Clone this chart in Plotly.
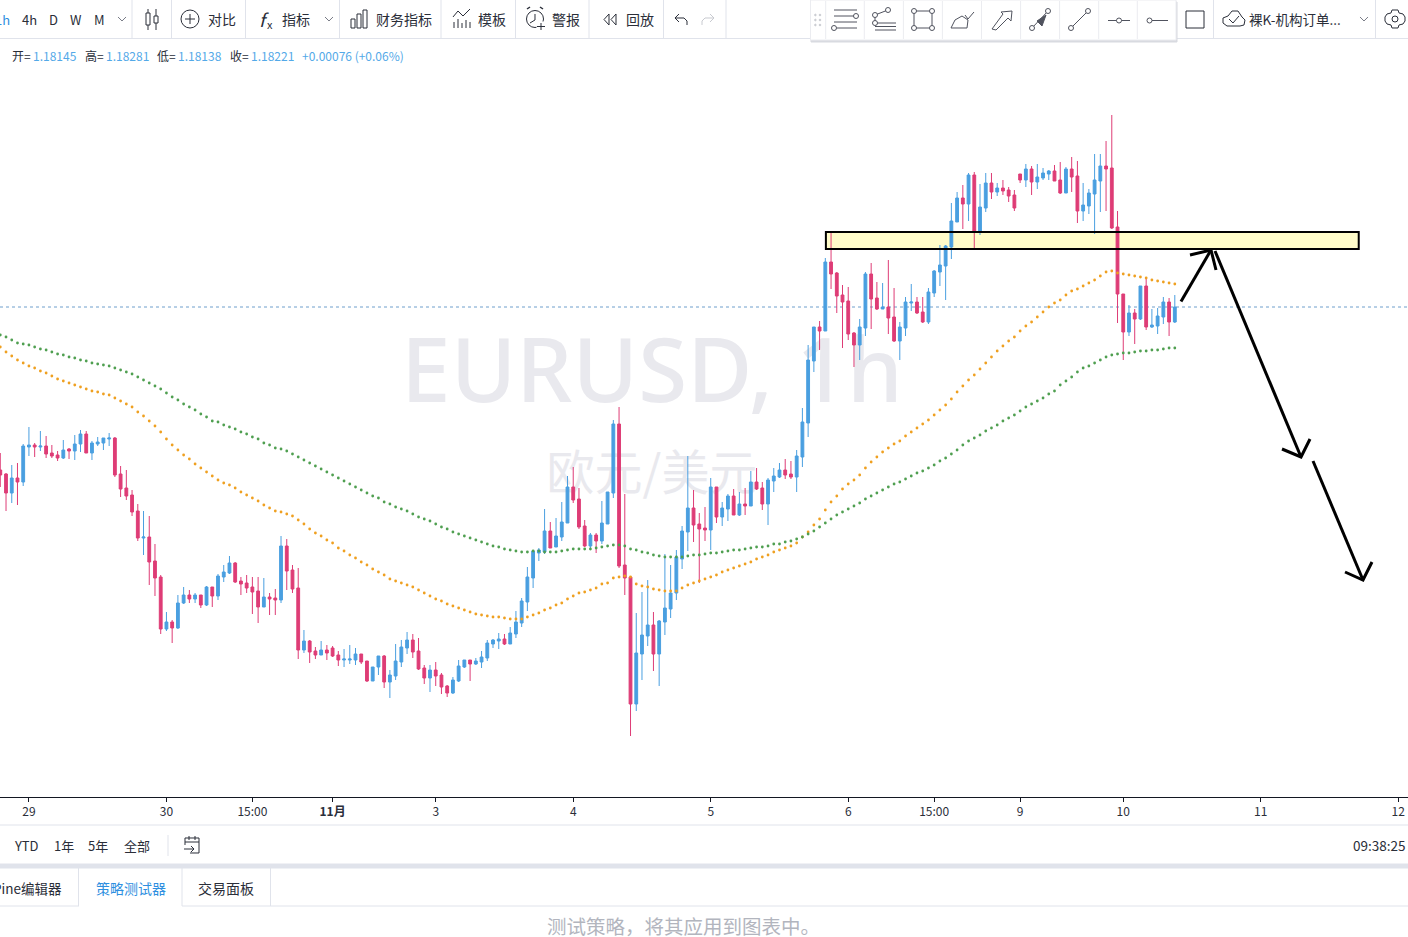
import plotly.graph_objects as go

# EURUSD 1h bars
opens = [
    1.1740, 1.1738, 1.17285, 1.1736, 1.1734, 1.17515, 1.17525, 1.17515, 1.1752, 1.17485,
    1.17475, 1.1746, 1.17505, 1.17495, 1.1753, 1.1758, 1.17485, 1.1753, 1.17535, 1.17555,
    1.1756, 1.1738, 1.1731, 1.17275, 1.17195, 1.1706, 1.17065, 1.16945, 1.16865, 1.16605,
    1.1664, 1.1661, 1.16735, 1.16775, 1.16755, 1.16775, 1.16725, 1.16815, 1.1677, 1.16865,
    1.16885, 1.16935, 1.16845, 1.16835, 1.16815, 1.16795, 1.16715, 1.16765, 1.1676, 1.1675,
    1.1702, 1.169, 1.1681, 1.165, 1.16545, 1.16495, 1.16475, 1.165, 1.1651, 1.16475,
    1.1645, 1.1645, 1.1645, 1.1648, 1.16445, 1.16345, 1.16415, 1.1647, 1.1634, 1.1637,
    1.1644, 1.1651, 1.1655, 1.16495, 1.1641, 1.1636, 1.164, 1.16375, 1.1632, 1.16285,
    1.16345, 1.16415, 1.1645, 1.1643, 1.1644, 1.1646, 1.1653, 1.16545, 1.16555, 1.1653,
    1.1658, 1.16635, 1.1674, 1.1686, 1.16985, 1.1699, 1.17095, 1.17015, 1.17065, 1.17135,
    1.17315, 1.17255, 1.1712, 1.1702, 1.17075, 1.17045, 1.1713, 1.17285, 1.1763, 1.16925,
    1.16865, 1.1623, 1.1648, 1.1657, 1.16625, 1.1648, 1.1664, 1.16705, 1.16785, 1.16955,
    1.1709, 1.1721, 1.1713, 1.1711, 1.171, 1.17315, 1.17165, 1.17205, 1.1727, 1.17175,
    1.1723, 1.1722, 1.1734, 1.1731, 1.1723, 1.17345, 1.17365, 1.174, 1.1738, 1.17365,
    1.17465, 1.17635, 1.17945, 1.18115, 1.18095, 1.1844, 1.18385, 1.18275, 1.18245, 1.18085,
    1.18025, 1.1811, 1.1838, 1.1826, 1.18205, 1.18215, 1.18165, 1.18045, 1.1811, 1.18235,
    1.1824, 1.1819, 1.1814, 1.18285, 1.1839, 1.1842, 1.18515, 1.1864, 1.1876, 1.1873,
    1.18875, 1.18595, 1.1871, 1.18835, 1.1879, 1.1881, 1.188, 1.18775, 1.1888, 1.1885,
    1.18905, 1.1884, 1.1886, 1.1888, 1.18895, 1.1885, 1.18785, 1.18905, 1.1887, 1.18695,
    1.1872, 1.1878, 1.18845, 1.1892, 1.1891, 1.18615, 1.1828, 1.1809, 1.18185, 1.18155,
    1.1832, 1.18115, 1.1812, 1.18165, 1.1824, 1.1814,
]
highs = [
    1.17485, 1.17385, 1.17425, 1.17435, 1.1753, 1.17615, 1.17535, 1.17595, 1.1757, 1.17525,
    1.17495, 1.1755, 1.1751, 1.17575, 1.176, 1.17595, 1.17545, 1.17565, 1.1756, 1.17585,
    1.17565, 1.1742, 1.174, 1.173, 1.1723, 1.17195, 1.1717, 1.1703, 1.16875, 1.1669,
    1.1665, 1.16775, 1.16815, 1.168, 1.16785, 1.16775, 1.1682, 1.16815, 1.1688, 1.16925,
    1.1697, 1.1694, 1.16865, 1.16875, 1.16865, 1.16865, 1.1686, 1.16785, 1.16805, 1.1707,
    1.17055, 1.16925, 1.1691, 1.1660, 1.1655, 1.16515, 1.16545, 1.16525, 1.1652, 1.16495,
    1.16505, 1.16525, 1.1651, 1.1648, 1.16445, 1.16415, 1.1647, 1.16475, 1.164, 1.1653,
    1.1655, 1.1659, 1.1658, 1.1656, 1.16425, 1.16425, 1.1644, 1.16385, 1.16325, 1.16365,
    1.1645, 1.1645, 1.1645, 1.1646, 1.16495, 1.1655, 1.16555, 1.16585, 1.1658, 1.16615,
    1.16695, 1.1676, 1.16915, 1.17, 1.1701, 1.17205, 1.1714, 1.1716, 1.1724, 1.1737,
    1.17415, 1.1731, 1.1715, 1.17085, 1.17085, 1.17245, 1.1729, 1.1765, 1.17715, 1.1728,
    1.16865, 1.16685, 1.1679, 1.1685, 1.1669, 1.1665, 1.1698, 1.16925, 1.17, 1.1712,
    1.1747, 1.173, 1.17185, 1.17215, 1.1736, 1.17315, 1.1724, 1.1728, 1.17305, 1.1729,
    1.1731, 1.17395, 1.1741, 1.1734, 1.1736, 1.1741, 1.17435, 1.17455, 1.17445, 1.175,
    1.1771, 1.18025, 1.18115, 1.18145, 1.1846, 1.1859, 1.1839, 1.18325, 1.18315, 1.1809,
    1.18155, 1.1839, 1.18435, 1.1834, 1.18335, 1.1845, 1.1831, 1.1814, 1.18265, 1.1833,
    1.18265, 1.18265, 1.1831, 1.1840, 1.18525, 1.18525, 1.18735, 1.1879, 1.18825, 1.18885,
    1.1889, 1.1883, 1.18885, 1.18885, 1.18835, 1.1885, 1.18815, 1.188, 1.1888, 1.1893,
    1.1892, 1.1893, 1.1891, 1.189, 1.18925, 1.1894, 1.18915, 1.18965, 1.18945, 1.18835,
    1.18805, 1.1898, 1.1898, 1.19045, 1.19175, 1.18695, 1.1828, 1.18225, 1.18205, 1.1832,
    1.1836, 1.18205, 1.1821, 1.18265, 1.1826, 1.18275,
]
lows = [
    1.17315, 1.17195, 1.17235, 1.17225, 1.1732, 1.1747, 1.17465, 1.17495, 1.1746, 1.1746,
    1.17445, 1.17455, 1.17455, 1.1745, 1.1749, 1.17485, 1.1745, 1.1752, 1.175, 1.1752,
    1.17365, 1.17265, 1.1725, 1.1717, 1.17045, 1.16975, 1.16825, 1.1677, 1.1658, 1.16595,
    1.16535, 1.16605, 1.1673, 1.16735, 1.16735, 1.1671, 1.1672, 1.16715, 1.1675, 1.1684,
    1.1688, 1.16835, 1.16775, 1.16785, 1.1668, 1.16635, 1.16715, 1.16675, 1.16675, 1.16735,
    1.168, 1.16785, 1.16455, 1.16485, 1.16435, 1.16455, 1.16475, 1.1645, 1.16465, 1.1642,
    1.16415, 1.1643, 1.16425, 1.1643, 1.1634, 1.16345, 1.16375, 1.1631, 1.1626, 1.1635,
    1.16415, 1.1648, 1.1646, 1.164, 1.1633, 1.1629, 1.1632, 1.1628, 1.16265, 1.1628,
    1.1634, 1.1641, 1.16345, 1.16425, 1.1641, 1.16445, 1.1651, 1.16505, 1.16525, 1.1653,
    1.1656, 1.16615, 1.16695, 1.1681, 1.16945, 1.1698, 1.1701, 1.17015, 1.17045, 1.17135,
    1.17235, 1.17105, 1.17015, 1.1701, 1.16985, 1.1703, 1.1713, 1.1726, 1.1691, 1.16775,
    1.1607, 1.16195, 1.1635, 1.1652, 1.16395, 1.1632, 1.16575, 1.1666, 1.1675, 1.16905,
    1.16995, 1.1704, 1.16835, 1.17045, 1.17, 1.17135, 1.1712, 1.17145, 1.17175, 1.1717,
    1.17175, 1.1722, 1.173, 1.172, 1.17125, 1.1729, 1.1736, 1.17355, 1.17355, 1.1729,
    1.17415, 1.17565, 1.1789, 1.18, 1.18095, 1.18305, 1.18185, 1.1801, 1.1805, 1.17915,
    1.1795, 1.1807, 1.18105, 1.182, 1.18205, 1.1808, 1.1804, 1.1795, 1.1807, 1.18195,
    1.1818, 1.18135, 1.1813, 1.18265, 1.1832, 1.1825, 1.18455, 1.1864, 1.18605, 1.18645,
    1.185, 1.18575, 1.1869, 1.18755, 1.1877, 1.18775, 1.1874, 1.18695, 1.18835, 1.18815,
    1.18775, 1.18805, 1.1885, 1.1885, 1.18845, 1.1878, 1.18785, 1.1879, 1.18635, 1.18645,
    1.1868, 1.1858, 1.1869, 1.18695, 1.18605, 1.18135, 1.1795, 1.1807, 1.1803, 1.1815,
    1.181, 1.1811, 1.1808, 1.1813, 1.1807, 1.18135,
]
closes = [
    1.17375, 1.17285, 1.1736, 1.1734, 1.1752, 1.17525, 1.17515, 1.1752, 1.1748, 1.1747,
    1.1746, 1.175, 1.17495, 1.1753, 1.1758, 1.17485, 1.17535, 1.1754, 1.1756, 1.1756,
    1.17375, 1.17305, 1.1727, 1.1719, 1.1706, 1.17065, 1.1694, 1.1686, 1.16605, 1.1664,
    1.1661, 1.16735, 1.16775, 1.16755, 1.16775, 1.16725, 1.16815, 1.1677, 1.1687, 1.1689,
    1.16935, 1.1684, 1.1683, 1.1681, 1.1679, 1.16715, 1.16765, 1.16755, 1.1675, 1.1702,
    1.16895, 1.16805, 1.165, 1.16545, 1.1649, 1.16475, 1.165, 1.16485, 1.1647, 1.1645,
    1.16455, 1.16455, 1.1648, 1.1644, 1.16345, 1.16415, 1.1647, 1.1634, 1.16375, 1.16445,
    1.16515, 1.1655, 1.1649, 1.16405, 1.1636, 1.164, 1.1637, 1.16315, 1.16285, 1.1635,
    1.1642, 1.1645, 1.1643, 1.16445, 1.16465, 1.16535, 1.1655, 1.16555, 1.1653, 1.16585,
    1.1664, 1.16745, 1.16865, 1.16995, 1.17, 1.17095, 1.1701, 1.1707, 1.1714, 1.17315,
    1.1725, 1.17115, 1.1702, 1.17075, 1.17045, 1.17135, 1.1729, 1.1763, 1.1692, 1.1686,
    1.1623, 1.16485, 1.16575, 1.16625, 1.1648, 1.16645, 1.1671, 1.16785, 1.16965, 1.17095,
    1.1721, 1.17125, 1.17105, 1.171, 1.17315, 1.17165, 1.1721, 1.1727, 1.17175, 1.1723,
    1.1722, 1.1734, 1.17305, 1.1723, 1.1735, 1.1737, 1.174, 1.17375, 1.17365, 1.1747,
    1.1764, 1.1795, 1.18115, 1.18095, 1.1844, 1.1838, 1.1827, 1.1824, 1.1808, 1.18025,
    1.18115, 1.1838, 1.18255, 1.18205, 1.18215, 1.1816, 1.18045, 1.18115, 1.1824, 1.1824,
    1.18185, 1.1814, 1.1829, 1.18395, 1.18425, 1.1852, 1.18645, 1.1876, 1.1873, 1.18875,
    1.18595, 1.18715, 1.18835, 1.1879, 1.1881, 1.18795, 1.1877, 1.1871, 1.1885, 1.18905,
    1.1884, 1.18865, 1.18885, 1.18895, 1.18845, 1.18785, 1.18905, 1.18865, 1.18695, 1.18725,
    1.18785, 1.1885, 1.1892, 1.18905, 1.1861, 1.1828, 1.1809, 1.18185, 1.18155, 1.1832,
    1.18115, 1.18125, 1.1817, 1.1824, 1.1814, 1.18215,
]

# the two dotted moving averages, one point per bar
ma_orange = [
    1.18015, 1.1799, 1.1797, 1.1795, 1.17935, 1.1792, 1.1791, 1.17895, 1.17885, 1.1787,
    1.17855, 1.17845, 1.17835, 1.17825, 1.17815, 1.17805, 1.17795, 1.1779, 1.1778, 1.17775,
    1.1776, 1.17745, 1.1773, 1.17715, 1.1769, 1.1767, 1.17645, 1.1762, 1.1759, 1.17555,
    1.17525, 1.175, 1.17475, 1.17455, 1.1743, 1.1741, 1.1739, 1.1737, 1.1735, 1.17335,
    1.17325, 1.1731, 1.1729, 1.17275, 1.1726, 1.17245, 1.17225, 1.1721, 1.17195, 1.1719,
    1.1718, 1.1717, 1.1715, 1.1713, 1.17105, 1.17085, 1.1707, 1.1705, 1.17035, 1.1701,
    1.16995, 1.16975, 1.1696, 1.1694, 1.16925, 1.16905, 1.1689, 1.16875, 1.16855, 1.16845,
    1.16835, 1.16825, 1.16815, 1.168, 1.16785, 1.1677, 1.16755, 1.16745, 1.1673, 1.1672,
    1.1671, 1.167, 1.1669, 1.1668, 1.16675, 1.1667, 1.16665, 1.16665, 1.1666, 1.16655,
    1.16655, 1.16655, 1.16665, 1.16675, 1.16685, 1.167, 1.1671, 1.16725, 1.16735, 1.16755,
    1.1677, 1.16785, 1.1679, 1.168, 1.1681, 1.1683, 1.16835, 1.1686, 1.16865, 1.1687,
    1.16865, 1.1683, 1.1682, 1.16815, 1.16805, 1.168, 1.16795, 1.16795, 1.16795, 1.1681,
    1.16825, 1.16835, 1.16845, 1.16855, 1.16865, 1.16875, 1.1689, 1.169, 1.1691, 1.1692,
    1.1693, 1.1694, 1.16955, 1.16965, 1.16975, 1.1699, 1.17, 1.1701, 1.1702, 1.17035,
    1.17065, 1.1709, 1.17125, 1.17155, 1.172, 1.1724, 1.1727, 1.17305, 1.1733, 1.1735,
    1.17375, 1.1741, 1.1744, 1.17465, 1.1749, 1.1751, 1.1753, 1.17545, 1.1757, 1.1759,
    1.1761, 1.1763, 1.1765, 1.17675, 1.177, 1.17725, 1.17755, 1.1779, 1.1782, 1.1785,
    1.17875, 1.17905, 1.17935, 1.17965, 1.17995, 1.1802, 1.18045, 1.18065, 1.18095, 1.1812,
    1.1814, 1.18165, 1.1819, 1.18215, 1.18235, 1.1825, 1.18275, 1.18295, 1.18305, 1.1832,
    1.18335, 1.1835, 1.1837, 1.1839, 1.18395, 1.18385, 1.1838, 1.18375, 1.1837, 1.18365,
    1.1836, 1.1835, 1.18345, 1.1834, 1.18335, 1.1833,
]
ma_green = [
    1.18075, 1.18065, 1.1805, 1.18035, 1.1803, 1.18025, 1.18015, 1.18005, 1.18, 1.1799,
    1.1798, 1.17975, 1.17965, 1.1796, 1.1795, 1.17945, 1.17935, 1.1793, 1.17925, 1.1792,
    1.1791, 1.179, 1.1789, 1.1788, 1.17865, 1.1785, 1.17835, 1.1782, 1.17805, 1.17785,
    1.17765, 1.1775, 1.1773, 1.17715, 1.177, 1.1768, 1.17665, 1.17645, 1.1764, 1.17625,
    1.17615, 1.17605, 1.1759, 1.1758, 1.17565, 1.17555, 1.17535, 1.17525, 1.1751, 1.17505,
    1.17495, 1.1748, 1.17465, 1.1745, 1.17435, 1.1742, 1.17405, 1.1739, 1.17375, 1.1736,
    1.17345, 1.1733, 1.17315, 1.173, 1.17285, 1.1727, 1.1726, 1.1724, 1.1723, 1.17215,
    1.17205, 1.17195, 1.1718, 1.17165, 1.17155, 1.17145, 1.1713, 1.17115, 1.17105, 1.1709,
    1.1708, 1.1707, 1.1706, 1.1705, 1.1704, 1.1703, 1.1702, 1.17015, 1.17005, 1.17,
    1.16995, 1.1699, 1.1699, 1.16995, 1.16995, 1.1699, 1.1699, 1.1699, 1.16995, 1.17,
    1.17005, 1.17005, 1.17005, 1.17005, 1.1701, 1.17015, 1.1702, 1.17025, 1.17025, 1.1702,
    1.17005, 1.17, 1.1699, 1.16985, 1.16975, 1.1697, 1.16965, 1.16965, 1.16965, 1.16965,
    1.1697, 1.16975, 1.16975, 1.1698, 1.16985, 1.16985, 1.1699, 1.16995, 1.17, 1.17,
    1.17005, 1.1701, 1.17015, 1.17015, 1.1702, 1.1703, 1.1703, 1.1704, 1.17045, 1.17055,
    1.17065, 1.1708, 1.17095, 1.17115, 1.17135, 1.17155, 1.17175, 1.1719, 1.17205, 1.1722,
    1.17235, 1.17255, 1.1727, 1.17285, 1.173, 1.17315, 1.1733, 1.1734, 1.17355, 1.1737,
    1.17385, 1.17395, 1.1741, 1.17425, 1.17445, 1.1746, 1.1748, 1.175, 1.17525, 1.17545,
    1.1756, 1.17575, 1.17595, 1.1761, 1.17625, 1.17645, 1.1766, 1.17675, 1.17695, 1.17715,
    1.1773, 1.17745, 1.1776, 1.1778, 1.17795, 1.17825, 1.17845, 1.17865, 1.1789, 1.1791,
    1.1792, 1.17935, 1.1795, 1.17965, 1.17975, 1.1798, 1.17985, 1.17985, 1.1799, 1.17995,
    1.17995, 1.18, 1.18, 1.18005, 1.1801, 1.1801,
]

bar_index = list(range(len(closes)))

tick_bars = [5, 29, 44, 58, 76, 100, 124, 148, 163, 178, 196, 220, 244]
tick_labels = ["29", "30", "15:00", "<b>11月</b>", "3", "4", "5", "6", "15:00", "9", "10", "11", "12"]

legend_names = ["开=", "高=", "低=", "收="]
legend_values = ["1.18145", "1.18281", "1.18138", "1.18221"]
legend_change = "+0.00076 (+0.06%)"

zone_price = [1.18505, 1.1859]
zone_bars = [144.1, 237.1]

BLUE = "#4a9fe0"
RED = "#de3c76"
TEXT = "#2a2e39"
GREY = "#50535e"
RULE = "#e0e3eb"
CJK = "Noto Sans CJK SC"

W, H = 1408, 937
shapes = []
notes = []


def px(x):
    return x / W


def py(y):
    return 1 - y / H


def label(x, y, text, size=13, color=TEXT, anchor="left"):
    notes.append(dict(
        xref="paper", yref="paper", x=px(x), y=py(y), text=text, showarrow=False,
        xanchor=anchor, yanchor="middle", borderpad=0,
        font=dict(family=CJK, size=size, color=color),
    ))


def line(x0, y0, x1, y1, color=GREY, width=1):
    shapes.append(dict(
        type="line", xref="paper", yref="paper", x0=px(x0), y0=py(y0), x1=px(x1), y1=py(y1),
        line=dict(color=color, width=width),
    ))


def box(x0, y0, x1, y1, fill=None, color=GREY, width=1):
    shapes.append(dict(
        type="rect", xref="paper", yref="paper", x0=px(x0), y0=py(y0), x1=px(x1), y1=py(y1),
        fillcolor=fill or "rgba(0,0,0,0)", line=dict(color=color, width=width),
    ))


def circle(cx, cy, r=2.5, fill="#ffffff", color=GREY, width=1):
    shapes.append(dict(
        type="circle", xref="paper", yref="paper",
        x0=px(cx - r), y0=py(cy - r), x1=px(cx + r), y1=py(cy + r),
        fillcolor=fill, line=dict(color=color, width=width),
    ))


def path(points, closed=False, fill=None, color=GREY, width=1):
    d = "M " + " L ".join(f"{px(x):.5f} {py(y):.5f}" for x, y in points)
    if closed:
        d += " Z"
    shapes.append(dict(
        type="path", xref="paper", yref="paper", path=d,
        fillcolor=fill or "rgba(0,0,0,0)", line=dict(color=color, width=width),
    ))


def chevron(cx, cy):
    path([(cx - 4, cy - 2), (cx, cy + 2), (cx + 4, cy - 2)], color="#787b86")


# top toolbar
line(0, 38.5, W, 38.5, RULE)
for sep in [132, 171.5, 245.5, 339.5, 441, 515.5, 589, 663.5, 726, 1213.5, 1375.5]:
    line(sep, 0, sep, 38, RULE)
label(11, 19, "1h", 13, "#2e8fe0", "right")
label(30, 19, "4h", 13, TEXT, "center")
label(53, 19, "D", 13, TEXT, "center")
label(76, 19, "W", 13, TEXT, "center")
label(99, 19, "M", 13, TEXT, "center")
chevron(122, 19)

# candle type icon
line(148, 9, 148, 30, TEXT)
box(146, 13, 150, 25, "#ffffff", TEXT)
line(156, 9, 156, 30, TEXT)
box(154, 16, 158, 23, "#ffffff", TEXT)

circle(190, 19, 9, None, TEXT)
line(185, 19, 195, 19, TEXT)
line(190, 14, 190, 24, TEXT)
label(207, 19, "对比", 14)
label(258, 19, "<i>f</i>", 18, TEXT)
label(266, 24, "x", 11, TEXT)
label(281, 19, "指标", 14)
chevron(329, 19)

box(351, 19, 355, 28, None, TEXT)
box(357, 14, 361, 28, None, TEXT)
box(363, 10, 367, 28, None, TEXT)
label(375, 19, "财务指标", 14)

path([(453, 17), (458, 11), (463, 16), (470, 9)], color=TEXT)
for x_bar, y_bar in [(454, 22), (458, 19), (462, 23), (466, 20), (470, 22)]:
    line(x_bar, y_bar, x_bar, 28, TEXT)
label(477, 19, "模板", 14)

circle(535, 19, 8.5, None, TEXT)
path([(535, 14), (535, 20), (530, 23)], color=TEXT)
line(527, 9, 530, 7, TEXT, 1.5)
line(543, 9, 540, 7, TEXT, 1.5)
box(537, 22, 545, 30, "#ffffff", "#ffffff")
line(541, 23, 541, 30, TEXT)
line(537, 26.5, 545, 26.5, TEXT)
label(551, 19, "警报", 14)

path([(609, 14), (604, 19.5), (609, 25)], closed=True, color=TEXT)
path([(616, 14), (611, 19.5), (616, 25)], closed=True, color=TEXT)
label(625, 19, "回放", 14)

path([(679, 14), (675, 18), (679, 22)], color=TEXT)
path([(675, 18), (684, 18), (687, 21), (687, 25)], color=TEXT)
path([(710, 14), (714, 18), (710, 22)], color="#c8cad0")
path([(714, 18), (705, 18), (702, 21), (702, 25)], color="#c8cad0")

# floating drawing toolbar
box(811, 2, 1177, 42, "#d8dae0", "#d8dae0")
box(810.5, 0, 1176, 40, "#ffffff", "#ebecf0")
for sep in [825.7, 864.3, 903.4, 942.4, 981.5, 1020.6, 1059.6, 1098.7, 1137.3]:
    line(sep, 1, sep, 39, "#ebecf0")
for grip_y in [15, 20, 25]:
    circle(815.4, grip_y, 0.8, "#c8cad0", "#c8cad0")
    circle(820, grip_y, 0.8, "#c8cad0", "#c8cad0")

line(834, 10, 857, 10)
line(834, 16, 854, 16)
line(834, 22, 857, 22)
line(837, 28, 857, 28)
circle(856, 16)
circle(834, 28)

path([(875, 15), (888, 10)])
path([(875, 15), (875, 23)])
line(877, 23, 896, 23)
line(875, 26.5, 896, 26.5)
line(875, 30, 896, 30)
circle(875, 15)
circle(888, 10)
circle(875, 23)

box(914, 11, 932, 28)
for cx, cy in [(914, 11), (932, 11), (914, 28), (932, 28)]:
    circle(cx, cy)

path([(951, 28), (967, 28), (968, 20), (962, 16), (955, 20)], closed=True)
path([(965, 15), (968, 19), (974, 12)])

path([(992, 29), (1003, 14), (1001, 12), (1012, 11), (1011, 21), (1008, 18), (996, 30)], closed=True)

line(1032, 28, 1048, 11)
path([(1037, 21), (1046, 15), (1042, 26)], closed=True, fill=GREY)
circle(1032, 28)
circle(1048, 11)

line(1071, 28, 1088, 11)
circle(1071, 28)
circle(1088, 11)

line(1108, 20.5, 1130, 20.5)
circle(1119, 20.5)
line(1151, 20.5, 1168, 20.5)
circle(1149.5, 20.5)

box(1186, 11, 1204, 28, None, TEXT)

path([(1227, 26), (1223, 23), (1223, 18), (1228, 16), (1232, 11), (1238, 11),
      (1242, 17), (1245, 20), (1244, 25), (1240, 26)], closed=True, color=TEXT)
path([(1229, 19), (1233, 23), (1239, 16)], color=TEXT)
label(1248, 19, "裸K-机构订单...", 13.5)
chevron(1364, 19)

circle(1395, 19, 3, None, TEXT)
path([(1392, 10), (1398, 10), (1399, 13), (1403, 14), (1405, 17), (1405, 21), (1403, 24),
      (1399, 25), (1398, 28), (1392, 28), (1391, 25), (1387, 24), (1385, 21), (1385, 17),
      (1387, 14), (1391, 13)], closed=True, color=TEXT)

# OHLC legend line
legend_x = [11, 84, 156, 229]
for name, value, x in zip(legend_names, legend_values, legend_x):
    label(x, 56, name, 12, TEXT)
    label(x + 21, 56, value, 12, "#53a9e8")
label(301, 56, legend_change, 12, "#53a9e8")

# bottom range bar and tabs
line(0, 825, W, 825, RULE)
label(26, 845, "YTD", 13, TEXT, "center")
label(64, 845, "1年", 13, TEXT, "center")
label(98, 845, "5年", 13, TEXT, "center")
label(137, 845, "全部", 13, TEXT, "center")
line(168, 835, 168, 856, RULE)
path([(190, 853), (199, 853), (199, 838), (185, 838), (185, 845)], color=TEXT)
line(185, 842, 199, 842, TEXT)
line(189, 836, 189, 840, TEXT)
line(195, 836, 195, 840, TEXT)
line(184, 849, 194, 849, TEXT)
path([(191, 846), (194, 849), (191, 852)], color=TEXT)
label(1406, 845, "09:38:25", 13.5, TEXT, "right")

box(-2, 864, W + 2, 868, RULE, RULE)
line(0, 906, 79, 906, RULE)
line(182, 906, W, 906, RULE)
line(78.5, 868, 78.5, 906, RULE)
line(182, 868, 182, 906, RULE)
line(270.5, 868, 270.5, 906, RULE)
label(63, 888, "Pine编辑器", 13.5, TEXT, "right")
label(131, 888, "策略测试器", 14, "#2e8fe0", "center")
label(226, 888, "交易面板", 14, TEXT, "center")
label(683, 925.5, "测试策略，将其应用到图表中。", 19.5, "#b2b5be", "center")

# hand drawn arrows on the chart
line(1181, 301.5, 1211, 250, "#000000", 3)
path([(1190, 255), (1211, 250), (1216, 270)], color="#000000", width=3)
line(1215, 251, 1301, 457, "#000000", 3)
path([(1282, 449), (1301, 457), (1310, 439)], color="#000000", width=3)
line(1313, 461, 1363, 580, "#000000", 3)
path([(1345, 572), (1363, 580), (1372, 562)], color="#000000", width=3)

# supply zone and last price line
shapes.append(dict(
    type="rect", xref="x2", yref="y2", layer="below",
    x0=zone_bars[0], x1=zone_bars[1], y0=zone_price[0], y1=zone_price[1],
    fillcolor="#fffcc9", line=dict(width=0),
))
shapes.append(dict(
    type="rect", xref="x2", yref="y2",
    x0=zone_bars[0], x1=zone_bars[1], y0=zone_price[0], y1=zone_price[1],
    fillcolor="rgba(0,0,0,0)", line=dict(color="#000000", width=2),
))
shapes.append(dict(
    type="line", xref="paper", yref="y2", layer="below", x0=0, x1=1,
    y0=closes[-1], y1=closes[-1], line=dict(color="#6f9fcc", width=1, dash="dot"),
))

fig = go.Figure()

# watermark lives on the lower pair of axes so the candles stay above it
fig.add_trace(go.Scatter(
    x=[652], y=[380], mode="text", text=["EURUSD, 1h"], hoverinfo="skip",
    textfont=dict(family="Noto Sans", size=89, color="#e9e9ee", weight=500),
    textposition="middle center", showlegend=False,
))
fig.add_trace(go.Scatter(
    x=[652], y=[478], mode="text", text=["欧元/美元"], hoverinfo="skip",
    textfont=dict(family=CJK, size=48, color="#e9e9ee"),
    textposition="middle center", showlegend=False,
))

fig.add_trace(go.Candlestick(
    x=bar_index, open=opens, high=highs, low=lows, close=closes,
    xaxis="x2", yaxis="y2", showlegend=False,
    increasing=dict(line=dict(color=BLUE, width=1), fillcolor=BLUE),
    decreasing=dict(line=dict(color=RED, width=1), fillcolor=RED),
))
fig.add_trace(go.Scatter(
    x=bar_index, y=ma_orange, mode="markers", xaxis="x2", yaxis="y2", showlegend=False,
    marker=dict(size=2.8, color="#efa020"),
))
fig.add_trace(go.Scatter(
    x=bar_index, y=ma_green, mode="markers", xaxis="x2", yaxis="y2", showlegend=False,
    marker=dict(size=2.8, color="#4f9f50"),
))

bottom = 1 - 797 / H
top = 1 - 40 / H

fig.update_layout(
    width=W,
    height=H,
    margin=dict(l=0, r=0, t=0, b=0),
    paper_bgcolor="#ffffff",
    plot_bgcolor="#ffffff",
    shapes=shapes,
    annotations=notes,
    xaxis=dict(range=[0, W], domain=[0, 1], visible=False, fixedrange=True),
    yaxis=dict(range=[797, 40], domain=[bottom, top], visible=False, fixedrange=True),
    xaxis2=dict(
        overlaying="x", anchor="y2", range=[-0.05, 245.7], fixedrange=True,
        rangeslider=dict(visible=False), showgrid=False, zeroline=False,
        showline=True, linecolor="#131722", linewidth=1,
        ticks="outside", ticklen=4, tickcolor="#131722", tickwidth=1,
        tickmode="array", tickvals=tick_bars, ticktext=tick_labels,
        tickfont=dict(family=CJK, size=12, color=TEXT),
    ),
    yaxis2=dict(
        overlaying="y", anchor="x2", range=[1.15765, 1.1955], fixedrange=True,
        visible=False,
    ),
)

# no page margin, the shot is taken at exactly the figure size
fig.write_html(
    "out.html",
    config=dict(displayModeBar=False),
    post_script="document.body.style.margin='0';document.body.style.overflow='hidden';",
)
